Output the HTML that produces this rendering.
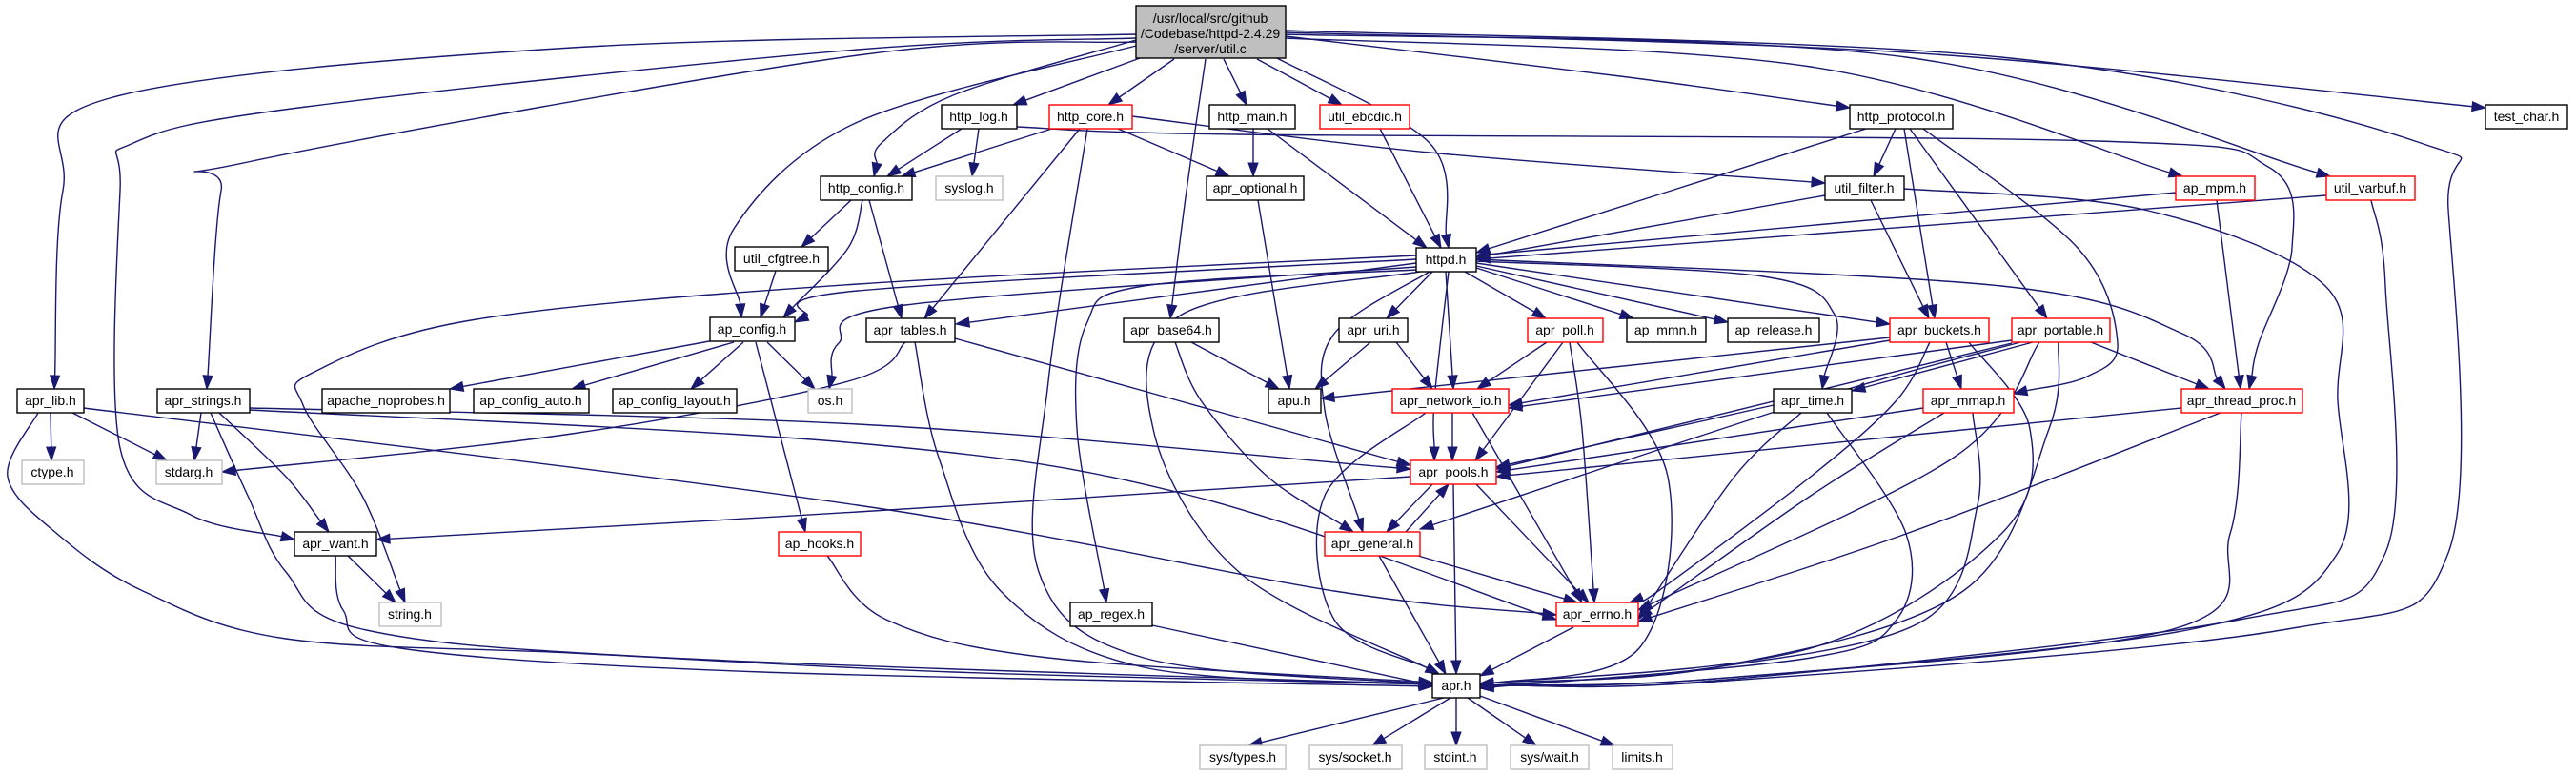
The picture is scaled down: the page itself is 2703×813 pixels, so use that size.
<!DOCTYPE html>
<html><head><meta charset="utf-8"><style>
html,body{margin:0;padding:0;background:#fff;width:2703px;height:813px;overflow:hidden}
svg{display:block}
text{font-family:"Liberation Sans",Arial,sans-serif;font-size:14px;fill:#000}
</style></head><body>
<svg id="g" width="2703" height="813" viewBox="0 0 2703 813" xmlns="http://www.w3.org/2000/svg">
<g id="edges" fill="none" stroke="#191970" stroke-width="1.4"></g>
<g id="arrows" fill="#191970" stroke="#191970" stroke-width="1"></g>
<g id="nodes" stroke-width="1.4">
<rect x="1192" y="6" width="157" height="55" fill="#bfbfbf" stroke="#000"/>
<text x="1270" y="24" text-anchor="middle">/usr/local/src/github</text>
<text x="1270" y="40" text-anchor="middle">/Codebase/httpd-2.4.29</text>
<text x="1270" y="56" text-anchor="middle">/server/util.c</text>
</g>
</svg>
<script>
var N={
"http_log.h":[988,1067,110,"b"],"http_core.h":[1101,1188,110,"r"],"http_main.h":[1269,1359,110,"b"],
"util_ebcdic.h":[1385,1479,110,"r"],"http_protocol.h":[1941,2049,110,"b"],"test_char.h":[2608,2694,110,"b"],
"http_config.h":[861,957,185,"b"],"syslog.h":[982,1052,185,"g"],"apr_optional.h":[1266,1368,185,"b"],
"util_filter.h":[1915,1998,185,"b"],"ap_mpm.h":[2283,2366,185,"r"],"util_varbuf.h":[2441,2534,185,"r"],
"util_cfgtree.h":[771,869,259,"b"],"httpd.h":[1486,1549,260,"b"],
"ap_config.h":[745,834,333,"b"],"apr_tables.h":[909,1002,334,"b"],"apr_base64.h":[1179,1279,334,"b"],
"apr_uri.h":[1405,1477,334,"b"],"apr_poll.h":[1603,1682,334,"r"],"ap_mmn.h":[1707,1790,334,"b"],
"ap_release.h":[1813,1909,334,"b"],"apr_buckets.h":[1983,2087,334,"r"],"apr_portable.h":[2111,2214,334,"r"],
"apr_lib.h":[18,88,408,"b"],"apr_strings.h":[165,262,408,"b"],"apache_noprobes.h":[338,472,408,"b"],
"ap_config_auto.h":[497,618,408,"b"],"ap_config_layout.h":[643,773,408,"b"],"os.h":[848,894,408,"g"],
"apu.h":[1331,1386,408,"b"],"apr_network_io.h":[1461,1583,408,"r"],"apr_time.h":[1861,1943,408,"b"],
"apr_mmap.h":[2018,2113,408,"r"],"apr_thread_proc.h":[2289,2416,408,"r"],
"ctype.h":[23,88,483,"g"],"stdarg.h":[164,233,483,"g"],"apr_pools.h":[1480,1570,483,"r"],
"apr_want.h":[309,395,558,"b"],"ap_hooks.h":[817,903,558,"r"],"apr_general.h":[1390,1490,558,"r"],
"string.h":[398,463,632,"g"],"ap_regex.h":[1123,1209,632,"b"],"apr_errno.h":[1633,1719,632,"r"],
"apr.h":[1503,1553,707,"b"],
"sys/types.h":[1259,1349,782,"g"],"sys/socket.h":[1374,1471,782,"g"],"stdint.h":[1495,1560,782,"g"],
"sys/wait.h":[1585,1667,782,"g"],"limits.h":[1692,1755,782,"g"]};
var ns="http://www.w3.org/2000/svg";
var E=[
[[1192,36],[600,50],[115,103],[66,200],[57,408]],
[[1192,40],[900,52],[321,112],[140,150],[126,200],[126,470],[200,540],[309,566]],
[[1192,44],[900,58],[260,170],[232,200],[217,408]],
[[1192,48],[900,128],[770,240],[778,333]],
[[1192,42],[1000,100],[925,150],[917,185]],
[[1196,61],[1063,110]],
[[1232,62],[1163,110]],
[[1265,62],[1245,200],[1228,334]],
[[1284,62],[1308,110]],
[[1319,62],[1408,110]],
[[1340,61],[1500,150],[1520,260]],
[[1349,38],[1700,80],[1941,113]],
[[1349,40],[1900,70],[2290,185]],
[[1349,36],[2000,60],[2445,185]],
[[1349,34],[2000,55],[2608,113]],
[[1349,32],[2100,60],[2540,150],[2569,220],[2569,580],[2400,660],[1800,715],[1553,719]],
[[1009,135],[931,185]],
[[1027,135],[1020,185]],
[[1067,133],[1300,141],[2200,148],[2380,175],[2405,260],[2370,360],[2360,408]],
[[1107,134],[946,185]],
[[1173,135],[1290,185]],
[[1133,135],[970,334]],
[[1141,135],[1100,400],[1090,600],[1200,690],[1503,718]],
[[1188,122],[1500,160],[1915,192]],
[[1315,135],[1315,185]],
[[1330,135],[1497,260]],
[[1448,135],[1512,260]],
[[893,210],[841,259]],
[[905,210],[890,260],[822,333]],
[[912,210],[946,334]],
[[814,284],[798,333]],
[[1320,210],[1353,408]],
[[1958,135],[1549,265]],
[[1989,135],[1966,185]],
[[1998,135],[2030,334]],
[[2004,135],[2148,334]],
[[2018,135],[2180,260],[2222,360],[2190,395],[2113,413]],
[[1915,205],[1549,270]],
[[1963,210],[2024,334]],
[[1998,198],[2250,220],[2440,300],[2453,420],[2453,580],[2300,660],[1800,712],[1553,719]],
[[2283,202],[1549,268]],
[[2326,210],[2351,408]],
[[2441,205],[1549,272]],
[[2488,210],[2503,300],[2503,580],[2350,650],[1800,714],[1553,719]],
[[1486,272],[900,305],[834,338]],
[[1486,268],[900,298],[500,335],[330,390],[318,425],[380,520],[425,632]],
[[1486,276],[1003,340]],
[[1486,280],[950,320],[880,360],[870,408]],
[[950,359],[890,400],[600,455],[233,495]],
[[1503,285],[1455,334]],
[[1537,285],[1622,334]],
[[1549,281],[1714,334]],
[[1549,279],[1813,338]],
[[1549,276],[1983,340]],
[[1549,274],[1850,290],[1925,330],[1912,408]],
[[1549,272],[2100,300],[2290,350],[2335,408]],
[[1517,285],[1525,408]],
[[1520,285],[1505,420],[1505,483]],
[[1500,285],[1400,350],[1390,430],[1430,558]],
[[1490,285],[1240,330],[1210,450],[1300,600],[1510,707]],
[[1486,283],[1200,300],[1140,340],[1130,450],[1161,632]],
[[1250,359],[1342,408]],
[[1233,359],[1260,420],[1330,500],[1420,558]],
[[1438,359],[1380,408]],
[[1465,359],[1503,408]],
[[1623,359],[1550,408]],
[[1640,359],[1580,440],[1548,483]],
[[1647,359],[1660,450],[1673,632]],
[[1655,359],[1750,500],[1720,680],[1553,720]],
[[1983,354],[1386,418]],
[[1983,357],[1583,425]],
[[2042,359],[2058,408]],
[[2025,359],[1990,420],[1900,500],[1740,620],[1710,632]],
[[2066,359],[2130,450],[2100,560],[1900,680],[1553,718]],
[[2111,357],[1583,428]],
[[2133,359],[1943,410]],
[[2194,359],[2318,408]],
[[2111,360],[1570,492]],
[[2120,359],[1900,420],[1490,555]],
[[2140,359],[2050,480],[1719,640]],
[[2160,359],[2150,450],[2060,620],[1800,700],[1553,717]],
[[53,433],[54,483]],
[[76,433],[175,483]],
[[88,428],[900,530],[1400,620],[1633,645]],
[[40,433],[8,500],[60,560],[150,620],[300,670],[600,685],[1000,705],[1503,718]],
[[211,433],[204,483]],
[[230,433],[300,500],[345,558]],
[[221,433],[260,520],[300,600],[380,660],[700,690],[1503,718]],
[[262,428],[900,445],[1480,492]],
[[262,430],[900,465],[1250,520],[1633,650]],
[[365,583],[415,632]],
[[352,583],[360,640],[420,680],[800,705],[1503,720]],
[[755,356],[472,408]],
[[770,359],[600,408]],
[[780,359],[725,408]],
[[805,359],[855,408]],
[[793,359],[845,558]],
[[960,359],[985,480],[1050,620],[1200,700],[1503,718]],
[[1002,355],[1480,488]],
[[868,583],[930,650],[1100,690],[1503,716]],
[[1209,656],[1503,719]],
[[1524,433],[1524,483]],
[[1545,433],[1660,632]],
[[1496,433],[1390,520],[1400,650],[1510,707]],
[[1480,500],[900,537],[395,566]],
[[1503,508],[1455,558]],
[[1549,508],[1667,632]],
[[1525,508],[1528,707]],
[[1475,558],[1520,508]],
[[1488,583],[1655,632]],
[[1447,583],[1517,707]],
[[1651,658],[1553,709]],
[[1861,425],[1570,490]],
[[1890,433],[1820,500],[1719,650]],
[[1917,433],[2000,560],[1990,650],[1900,690],[1553,722]],
[[2018,428],[1570,495]],
[[2040,433],[1900,520],[1719,648]],
[[2070,433],[2075,530],[2020,650],[1800,700],[1553,720]],
[[2289,428],[1570,500]],
[[2330,433],[2000,560],[1719,652]],
[[2352,433],[2340,560],[2280,660],[1800,712],[1553,720]],
[[1515,732],[1310,782]],
[[1522,732],[1440,782]],
[[1528,732],[1528,782]],
[[1540,732],[1612,782]],
[[1553,730],[1694,782]]
];
var eg=document.getElementById("edges"),ag=document.getElementById("arrows");
E.forEach(function(p){
  var n=p.length,L=14;
  var a=p[n-1],b=p[n-2];
  var dx=a[0]-b[0],dy=a[1]-b[1],d=Math.hypot(dx,dy);dx/=d;dy/=d;
  var e=[a[0]-dx*L,a[1]-dy*L];
  var pts=p.slice(0,n-1).concat([e]);
  var s="M"+pts[0][0]+","+pts[0][1];
  for(var i=0;i<pts.length-1;i++){
    var p0=pts[i-1]||pts[i],p1=pts[i],p2=pts[i+1],p3=pts[i+2]||p2;
    var c1=[p1[0]+(p2[0]-p0[0])/6,p1[1]+(p2[1]-p0[1])/6];
    var c2=[p2[0]-(p3[0]-p1[0])/6,p2[1]-(p3[1]-p1[1])/6];
    s+=" C"+c1[0]+","+c1[1]+" "+c2[0]+","+c2[1]+" "+p2[0]+","+p2[1];
  }
  var pa=document.createElementNS(ns,"path");pa.setAttribute("d",s);eg.appendChild(pa);
  var w=5,px=-dy,py=dx;
  var po=document.createElementNS(ns,"polygon");
  po.setAttribute("points",a[0]+","+a[1]+" "+(e[0]+px*w)+","+(e[1]+py*w)+" "+(e[0]-px*w)+","+(e[1]-py*w));
  ag.appendChild(po);
});
var ng=document.getElementById("nodes");
var col={b:"#000",r:"#ff0000",g:"#bfbfbf"};
for(var k in N){
  var v=N[k];
  var r=document.createElementNS(ns,"rect");
  r.setAttribute("x",v[0]);r.setAttribute("y",v[2]);r.setAttribute("width",v[1]-v[0]);r.setAttribute("height",25);
  r.setAttribute("fill","#fff");r.setAttribute("stroke",col[v[3]]);ng.appendChild(r);
}
</script>
<div style="position:absolute;left:0;top:0;width:2703px;height:813px;pointer-events:none">
<svg width="2703" height="813" viewBox="0 0 2703 813" xmlns="http://www.w3.org/2000/svg" style="position:absolute;left:0;top:0">
<g text-anchor="middle" style="font-family:'Liberation Sans',Arial,sans-serif;font-size:14px">
<text x="1027" y="127">http_log.h</text>
<text x="1144" y="127">http_core.h</text>
<text x="1314" y="127">http_main.h</text>
<text x="1432" y="127">util_ebcdic.h</text>
<text x="1995" y="127">http_protocol.h</text>
<text x="2651" y="127">test_char.h</text>
<text x="909" y="202">http_config.h</text>
<text x="1017" y="202">syslog.h</text>
<text x="1317" y="202">apr_optional.h</text>
<text x="1956" y="202">util_filter.h</text>
<text x="2324" y="202">ap_mpm.h</text>
<text x="2487" y="202">util_varbuf.h</text>
<text x="820" y="276">util_cfgtree.h</text>
<text x="1517" y="277">httpd.h</text>
<text x="789" y="350">ap_config.h</text>
<text x="955" y="351">apr_tables.h</text>
<text x="1229" y="351">apr_base64.h</text>
<text x="1441" y="351">apr_uri.h</text>
<text x="1642" y="351">apr_poll.h</text>
<text x="1748" y="351">ap_mmn.h</text>
<text x="1861" y="351">ap_release.h</text>
<text x="2035" y="351">apr_buckets.h</text>
<text x="2162" y="351">apr_portable.h</text>
<text x="53" y="425">apr_lib.h</text>
<text x="213" y="425">apr_strings.h</text>
<text x="405" y="425">apache_noprobes.h</text>
<text x="557" y="425">ap_config_auto.h</text>
<text x="708" y="425">ap_config_layout.h</text>
<text x="871" y="425">os.h</text>
<text x="1358" y="425">apu.h</text>
<text x="1522" y="425">apr_network_io.h</text>
<text x="1902" y="425">apr_time.h</text>
<text x="2065" y="425">apr_mmap.h</text>
<text x="2352" y="425">apr_thread_proc.h</text>
<text x="55" y="500">ctype.h</text>
<text x="198" y="500">stdarg.h</text>
<text x="1525" y="500">apr_pools.h</text>
<text x="352" y="575">apr_want.h</text>
<text x="860" y="575">ap_hooks.h</text>
<text x="1440" y="575">apr_general.h</text>
<text x="430" y="649">string.h</text>
<text x="1166" y="649">ap_regex.h</text>
<text x="1676" y="649">apr_errno.h</text>
<text x="1528" y="724">apr.h</text>
<text x="1304" y="799">sys/types.h</text>
<text x="1422" y="799">sys/socket.h</text>
<text x="1527" y="799">stdint.h</text>
<text x="1626" y="799">sys/wait.h</text>
<text x="1723" y="799">limits.h</text>
</g>
</svg>
</div>
</body></html>
